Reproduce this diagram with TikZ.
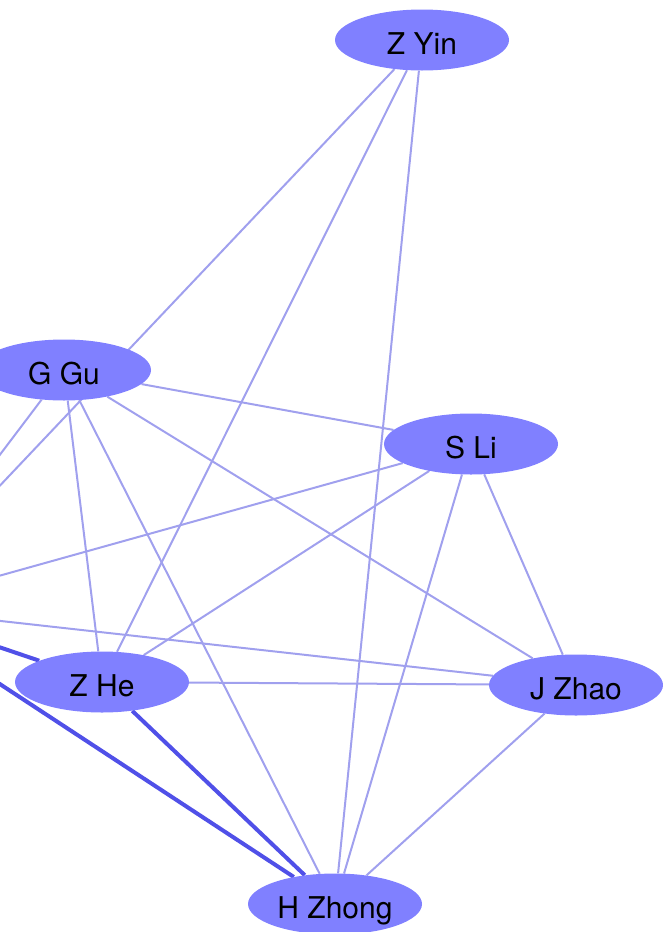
\documentclass[tikz,border=0pt]{standalone}
\usepackage{fontspec}
\setmainfont{TeX Gyre Heros}
\usetikzlibrary{shapes.geometric,backgrounds}

\definecolor{nodeblue}{RGB}{128,128,255}
\definecolor{tieblue}{RGB}{160,160,238}
\definecolor{bigtieblue}{RGB}{80,80,232}

\begin{document}
\begin{tikzpicture}[x=1pt, y=-1pt]

% Fix the frame of the picture
\useasboundingbox (0,0) rectangle (663,932);

% Define styles for authors and ties
\tikzstyle{author} = [ellipse, fill=nodeblue, minimum width=174pt, minimum height=61pt, inner sep=0pt, text height=30pt, text depth=2pt, font=\fontsize{30}{36}\selectfont]
\tikzstyle{tie} = [draw=tieblue, line width=2pt]
\tikzstyle{bigtie} = [draw=bigtieblue, line width=4pt]

\node[author] (yin) at (422,40) {Z Yin};
\node[author] (gu) at (64,370) {G Gu};
\node[author] (li) at (471,444) {S Li};
\node[author] (he) at (102,682) {Z He};
\node[author] (zhao) at (576,685) {J Zhao};
\node[author] (zhong) at (335,904) {H Zhong};
\coordinate (hub) at (-116,608);

%Ties behind the authors
\begin{scope}[on background layer]
\draw[tie] (yin) -- (hub);
\draw[tie] (yin) -- (he);
\draw[tie] (yin) -- (zhong);
\draw[tie] (gu) -- (li);
\draw[tie] (gu) -- (he);
\draw[tie] (gu) -- (zhong);
\draw[tie] (gu) -- (zhao);
\draw[tie] (gu) -- (hub);
\draw[tie] (li) -- (hub);
\draw[tie] (li) -- (he);
\draw[tie] (li) -- (zhong);
\draw[tie] (li) -- (zhao);
\draw[tie] (he) -- (zhao);
\draw[tie] (zhao) -- (hub);
\draw[tie] (zhao) -- (zhong);
\draw[bigtie] (hub) -- (he);
\draw[bigtie] (hub) -- (zhong);
\draw[bigtie] (he) -- (zhong);
\end{scope}

\end{tikzpicture}
\end{document}
